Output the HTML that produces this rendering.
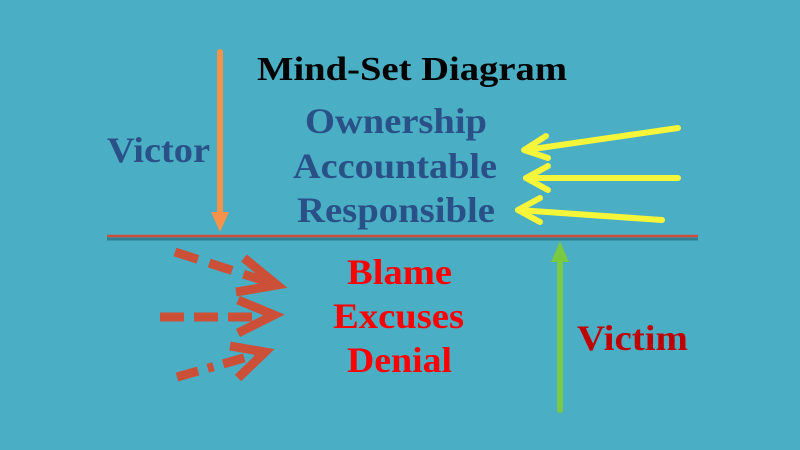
<!DOCTYPE html>
<html><head><meta charset="utf-8"><style>
html,body{margin:0;padding:0;width:800px;height:450px;overflow:hidden;background:#4aaec4}
</style></head><body>
<svg width="800" height="450" xmlns="http://www.w3.org/2000/svg" style="display:block">
<rect width="800" height="450" fill="#4aaec4"/>
<g font-family="Liberation Serif, serif" font-weight="bold">
<text x="257" y="80" font-size="34" textLength="310" lengthAdjust="spacingAndGlyphs" fill="#000">Mind-Set Diagram</text>
<g fill="#2a5088" font-size="36">
<text x="305" y="133" textLength="182" lengthAdjust="spacingAndGlyphs">Ownership</text>
<text x="293" y="178" textLength="204" lengthAdjust="spacingAndGlyphs">Accountable</text>
<text x="297" y="222" textLength="198" lengthAdjust="spacingAndGlyphs">Responsible</text>
<text x="107" y="162" textLength="103" lengthAdjust="spacingAndGlyphs">Victor</text>
</g>
<g fill="#ff0000" font-size="36">
<text x="347" y="284" textLength="105" lengthAdjust="spacingAndGlyphs">Blame</text>
<text x="333" y="328" textLength="131" lengthAdjust="spacingAndGlyphs">Excuses</text>
<text x="347" y="372" textLength="105" lengthAdjust="spacingAndGlyphs">Denial</text>
</g>
<text x="577" y="350" font-size="36" textLength="111" lengthAdjust="spacingAndGlyphs" fill="#c00000">Victim</text>
</g>
<line x1="107" y1="239" x2="698" y2="239" stroke="#2f7f90" stroke-width="3"/>
<line x1="107" y1="236" x2="698" y2="236" stroke="#c8503a" stroke-width="2.5"/>
<line x1="220" y1="52" x2="220" y2="222" stroke="#f5934a" stroke-width="6" stroke-linecap="round"/>
<polygon points="211,212 229,212 220,232" fill="#f5934a"/>
<line x1="560" y1="410" x2="560" y2="252" stroke="#7ac943" stroke-width="6" stroke-linecap="round"/>
<polygon points="551,262 569,262 560,241" fill="#7ac943"/>
<g stroke="#f5f53a" stroke-width="6" fill="none" stroke-linecap="round" stroke-linejoin="round">
<line x1="678" y1="128" x2="526" y2="150"/><polyline points="546,136 524,150 548,158"/>
<line x1="678" y1="178" x2="526" y2="178"/><polyline points="548,166 526,178 548,190"/>
<line x1="662" y1="220" x2="518" y2="210"/><polyline points="540,198 518,210 540,222"/>
</g>
<g stroke="#cc5038" stroke-width="9" fill="none">
<line x1="175" y1="252" x2="268" y2="282" stroke-dasharray="24,12"/>
<polyline points="244,258 277,285 236,292"/>
<line x1="160" y1="317" x2="262" y2="317" stroke-dasharray="24,10"/>
<polyline points="238,300 274,315 238,333"/>
<line x1="177" y1="377" x2="258" y2="354" stroke-dasharray="22,10,6,10"/>
<polyline points="230,346 265,352 238,378"/>
</g>
</svg>
</body></html>
